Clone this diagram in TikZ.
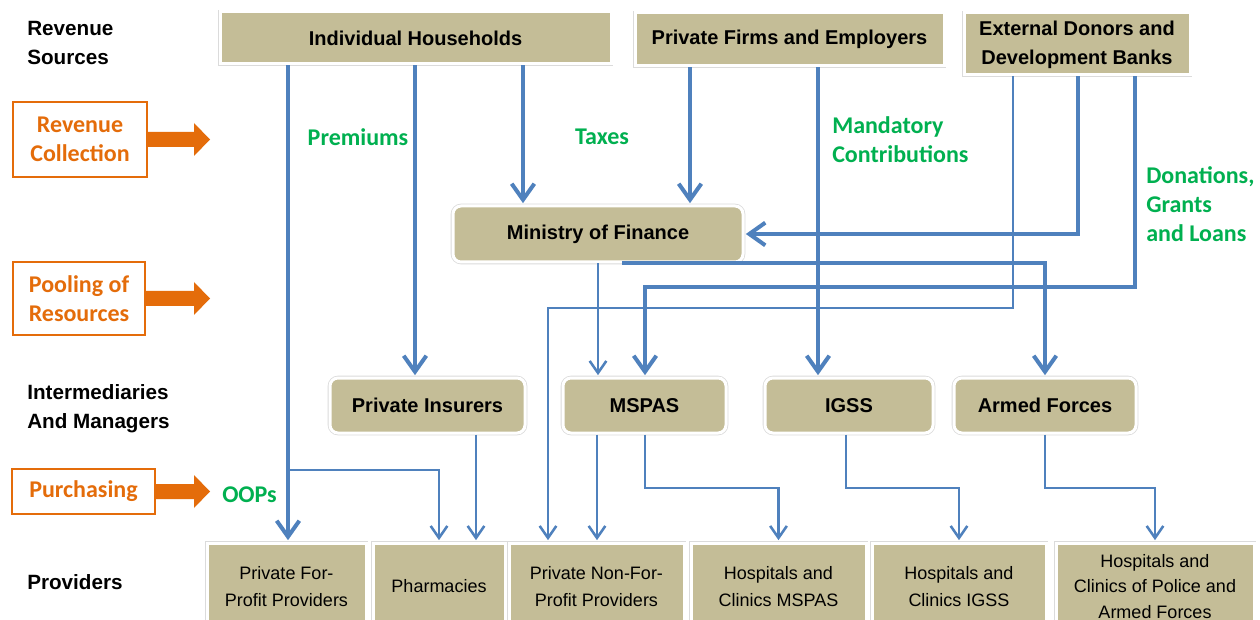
\documentclass[tikz,border=0pt]{standalone}
\usepackage{fontspec}
\setmainfont{Liberation Sans}
\newfontfamily\calib{Carlito}
\usetikzlibrary{arrows.meta}
\definecolor{boxtan}{HTML}{C4BD97}
\definecolor{flowblue}{HTML}{4F81BD}
\definecolor{orng}{HTML}{E46C0A}
\definecolor{grn}{HTML}{00B050}
\tikzset{
  framed/.style={fill=boxtan, draw=white, line width=2.25pt,
    preaction={draw=gray!28, line width=3.4pt}, inner sep=0pt, align=center},
  topbox/.style={framed, font=\fontsize{15}{21.75}\selectfont\bfseries},
  midbox/.style={framed, rounded corners=6pt, minimum height=41.25pt, font=\fontsize{15}{21.75}\selectfont\bfseries},
  botbox/.style={framed, minimum height=65.25pt, font=\fontsize{13.5}{20.25}\selectfont},
  stagebox/.style={draw=orng, line width=1.5pt, fill=white, inner sep=0pt, align=center,
    text=orng, font=\calib\fontsize{18}{21.75}\selectfont\bfseries},
  sidelabel/.style={anchor=west, inner sep=0pt, align=left, font=\fontsize{15.5}{21.75}\selectfont\bfseries},
  flowlabel/.style={inner sep=0pt, align=left, text=grn, font=\calib\fontsize{18}{21.75}\selectfont\bfseries},
  thk/.style={draw=flowblue, line width=3pt, -{Straight Barb[length=12pt,width=17pt]}, shorten >=1pt},
  thn/.style={draw=flowblue, line width=1.9pt, -{Straight Barb[length=9pt,width=12.5pt]}, shorten >=1pt},
}
\begin{document}
\begin{tikzpicture}[x=0.75pt,y=-0.75pt]
\useasboundingbox (0,0) rectangle (1260,620);
\clip (0,0) rectangle (1260,620);
\fill[white] (0,0) rectangle (1260,620);

% side labels
\node[sidelabel] (ls) at (27,42.5) {Revenue\\Sources};
\node[sidelabel] (lim) at (27,408.5) {Intermediaries\\And Managers};
\node[sidelabel] (lp) at (27,582) {Providers};

% stage boxes
\node[stagebox, minimum width=100.5pt, minimum height=56.25pt] (rc) at (80,139.5) {Revenue\\Collection};
\node[stagebox, minimum width=99pt, minimum height=54.75pt] (pr) at (79,298.5) {Pooling of\\Resources};
\node[stagebox, minimum width=107.25pt, minimum height=33.75pt] (pu) at (83.5,491.5) {Purchasing};
\foreach \b/\len in {rc/46, pr/48, pu/38}{
  \fill[orng] (\b.east) ++(0,-7.5) -- ++(\len,0) -- ++(0,-9) -- ++(16,16.5) -- ++(-16,16.5) -- ++(0,-9) -- ++(-\len,0) -- cycle;
}

% revenue sources
\node[topbox, minimum width=293.25pt, minimum height=39pt] (hh) at (415.5,38) {\raisebox{-1.5pt}{Individual Households}};
\node[topbox, minimum width=231.75pt, minimum height=39.75pt] (pf) at (789.5,39.5) {\raisebox{-1.5pt}{Private Firms and Employers}};
\node[topbox, minimum width=169.5pt, minimum height=46.5pt] (ed) at (1077,44) {\raisebox{-2pt}{\begin{tabular}{@{}c@{}}External Donors and\\Development Banks\end{tabular}}};

% ministry
\node[midbox, minimum width=217.5pt, minimum height=42pt] (mof) at (598,234) {Ministry of Finance};

% intermediaries
\node[midbox, minimum width=146.25pt] (pi) at (427.5,405.5) {Private Insurers};
\node[midbox, minimum width=122.25pt] (mspas) at (644.5,405.5) {MSPAS};
\node[midbox, minimum width=126pt] (igss) at (849,405.5) {IGSS};
\node[midbox, minimum width=136.5pt] (af) at (1045,405.5) {Armed Forces};

% providers
\node[botbox, minimum width=119.25pt] (pfp) at (286.5,586.5) {Private For-\\Profit Providers};
\node[botbox, minimum width=99pt] (ph) at (439,586.5) {Pharmacies};
\node[botbox, minimum width=131.25pt] (pnfp) at (596.5,586.5) {Private Non-For-\\Profit Providers};
\node[botbox, minimum width=131.25pt] (hm) at (778.5,586.5) {Hospitals and\\Clinics MSPAS};
\node[botbox, minimum width=130.5pt] (hi) at (959,586.5) {Hospitals and\\Clinics IGSS};
\node[botbox, minimum width=148.5pt, font=\fontsize{13.5}{19}\selectfont] (hp) at (1155,586.5) {Hospitals and\\Clinics of Police and\\Armed Forces};

% flow labels
\node[flowlabel] (lprem) at (358,137) {Premiums};
\node[flowlabel] (ltax) at (602,137) {Taxes};
\node[flowlabel, anchor=west] (lmand) at (832,140) {Mandatory\\Contributions};
\node[flowlabel, anchor=west] (ldon) at (1146,204) {Donations,\\Grants\\and Loans};
\node[flowlabel, anchor=west] (loop) at (222,495) {OOPs};

% helper coordinates
\coordinate (x288) at (288,0);
\coordinate (x415) at (415,0);
\coordinate (x523) at (523,0);
\coordinate (x690) at (690,0);
\coordinate (x818) at (818,0);
\coordinate (x1078) at (1078,0);
\coordinate (x1135) at (1135,0);
\coordinate (x1013) at (1013,0);
\coordinate (x622) at (622,0);
\coordinate (x598) at (598,0);
\coordinate (x476) at (476,0);
\coordinate (x597) at (597,0);
\coordinate (x645) at (645,0);
\coordinate (x846) at (846,0);
\coordinate (y488) at (0,488);
\coordinate (c7) at (645,287);
\coordinate (c8) at (548,308);
\coordinate (j1) at (288,470);

% thick flows
\draw[thk] (hh.south -| x288) -- (pfp.north -| x288);
\draw[thk] (hh.south -| x415) -- (pi.north -| x415);
\draw[thk] (hh.south -| x523) -- (mof.north -| x523);
\draw[thk] (pf.south -| x690) -- (mof.north -| x690);
\draw[thk] (pf.south -| x818) -- (igss.north -| x818);
\draw[thk] (ed.south -| x1078) |- (mof.east);
\draw[thk] (ed.south -| x1135) |- (c7) -- (mspas.north -| c7);
\draw[thk] (mof.south -| x622) -| (af.north);

% thin flows
\draw[thn] (ed.south -| x1013) |- (c8) -- (pnfp.north -| c8);
\draw[thn] (mof.south -| x598) -- (mspas.north -| x598);
\draw[thn] (j1) -| (ph.north);
\draw[thn] (pi.south -| x476) -- (ph.north -| x476);
\draw[thn] (mspas.south -| x597) -- (pnfp.north -| x597);
\draw[thn] (mspas.south -| x645) -- (x645 |- y488) -| (hm.north);
\draw[thn] (igss.south -| x846) -- (x846 |- y488) -| (hi.north);
\draw[thn] (af.south) -- (af.south |- y488) -| (hp.north);
\end{tikzpicture}
\end{document}
